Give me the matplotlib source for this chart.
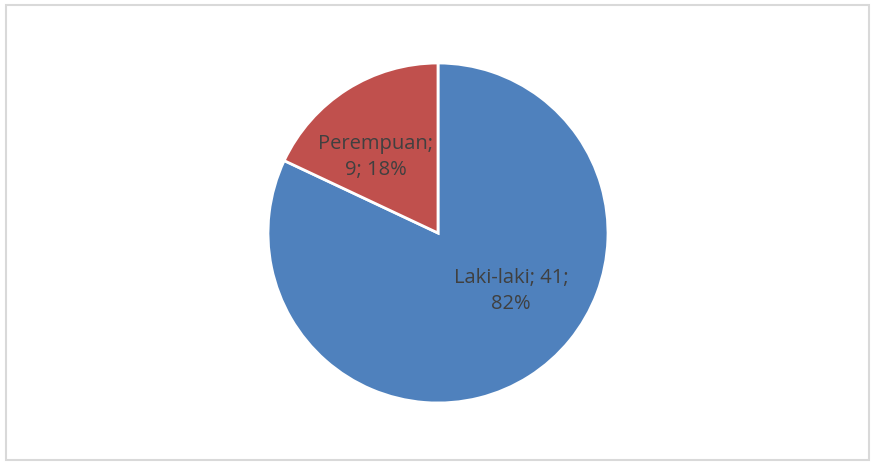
import matplotlib
matplotlib.use("Agg")
from matplotlib import pyplot as plt
from matplotlib.patches import Rectangle

labels = ["Laki-laki", "Perempuan"]
counts = [41, 9]
percents = [82, 18]
colors = ["#4F81BD", "#C0504D"]

W, H = 872, 463
fig = plt.figure(figsize=(W / 100, H / 100), dpi=100)

# chart border
fig.patches.append(Rectangle((6 / W, 3 / H), 863 / W, 455 / H, transform=fig.transFigure,
                             fill=False, edgecolor="#D9D9D9", linewidth=1.5))

cx, cy, r = 438, 463 - 233, 170
ax = fig.add_axes([(cx - r) / W, (cy - r) / H, 2 * r / W, 2 * r / H])
ax.pie(counts, colors=colors, startangle=90, counterclock=False, radius=1,
       wedgeprops=dict(edgecolor="white", linewidth=2))
ax.set_xlim(-1, 1)
ax.set_ylim(-1, 1)
ax.axis("off")

label_pos = [(0.43, -0.34), (-0.365, 0.45)]
label_txt = ["%s; %d;\n%d%%" % (labels[0], counts[0], percents[0]),
             "%s;\n%d; %d%%" % (labels[1], counts[1], percents[1])]
for (x, y), t in zip(label_pos, label_txt):
    ax.text(x, y, t, ha="center", va="center", fontsize=14.5, color="#404040",
            family="Open Sans", linespacing=1.4)

plt.savefig("out.png", dpi=100)
